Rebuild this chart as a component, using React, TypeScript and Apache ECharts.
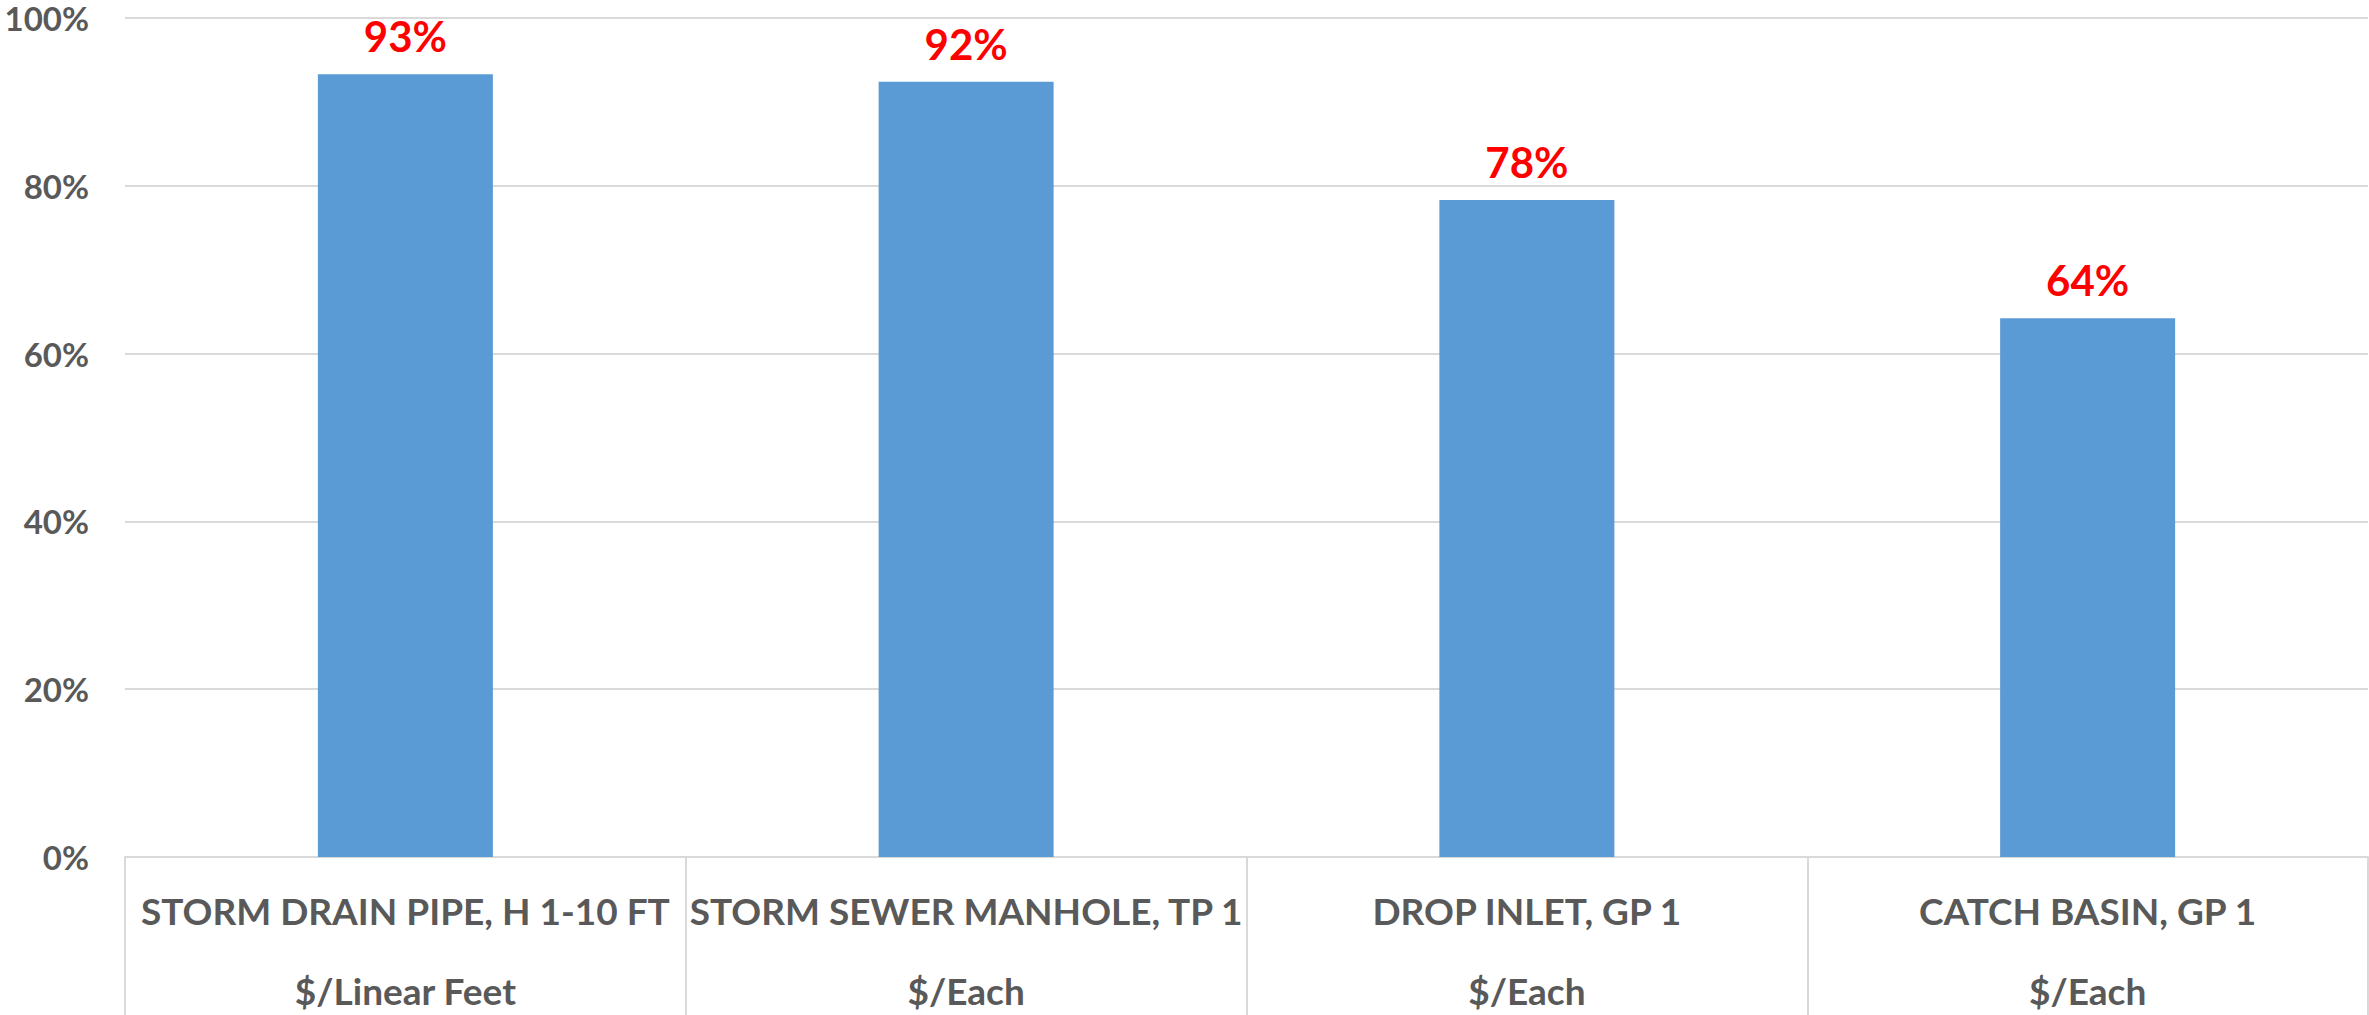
import React, { useEffect, useRef } from "react";
import * as echarts from "echarts";

const categories = [
  "STORM DRAIN PIPE, H 1-10 FT",
  "STORM SEWER MANHOLE, TP 1",
  "DROP INLET, GP 1",
  "CATCH BASIN, GP 1",
];
const units = ["$/Linear Feet", "$/Each", "$/Each", "$/Each"];
const values = [93.3, 92.4, 78.3, 64.2];
const yTicks = { min: 0, max: 100, interval: 20 };

const FONT = 'Lato, "Open Sans", sans-serif';

export default function App() {
  const ref = useRef<HTMLDivElement>(null);
  useEffect(() => {
    document.body.style.margin = "0";
    const chart = echarts.init(ref.current!, null, { renderer: "svg" });
    const labels = categories.map((c, i) => c + "\n" + units[i]);
    chart.setOption({
      animation: false,
      backgroundColor: "#ffffff",
      grid: {
        left: 125,
        right: 1,
        top: 18,
        bottom: 158,
        containLabel: false,
        outerBoundsMode: "none",
      },
      xAxis: {
        type: "category",
        data: labels,
        boundaryGap: true,
        axisLine: { show: true, lineStyle: { color: "#d9d9d9", width: 2 } },
        axisTick: { show: true, length: 165, lineStyle: { color: "#d9d9d9", width: 2 } },
        axisLabel: {
          interval: 0,
          color: "#595959",
          fontFamily: FONT,
          fontWeight: "bold",
          fontSize: 37,
          lineHeight: 80,
          margin: 13,
        },
      },
      yAxis: {
        type: "value",
        min: yTicks.min,
        max: yTicks.max,
        interval: yTicks.interval,
        axisLine: { show: false },
        axisTick: { show: false },
        splitLine: { lineStyle: { color: "#d9d9d9", width: 2 } },
        axisLabel: {
          formatter: "{value}%",
          color: "#595959",
          fontFamily: FONT,
          fontWeight: "bold",
          fontSize: 33,
          lineHeight: 30,
          margin: 36,
        },
      },
      series: [
        {
          type: "bar",
          data: values,
          barWidth: 175,
          itemStyle: { color: "#5b9bd5" },
          label: {
            show: true,
            position: "top",
            distance: 17,
            formatter: (p: any) => Math.round(p.value) + "%",
            color: "#ff0000",
            fontFamily: FONT,
            fontWeight: "bold",
            fontSize: 42,
          },
        },
      ],
    });
    return () => chart.dispose();
  }, []);
  return (
    <div
      ref={ref}
      style={{ position: "absolute", left: 0, top: 0, width: 2369, height: 1015 }}
    />
  );
}
